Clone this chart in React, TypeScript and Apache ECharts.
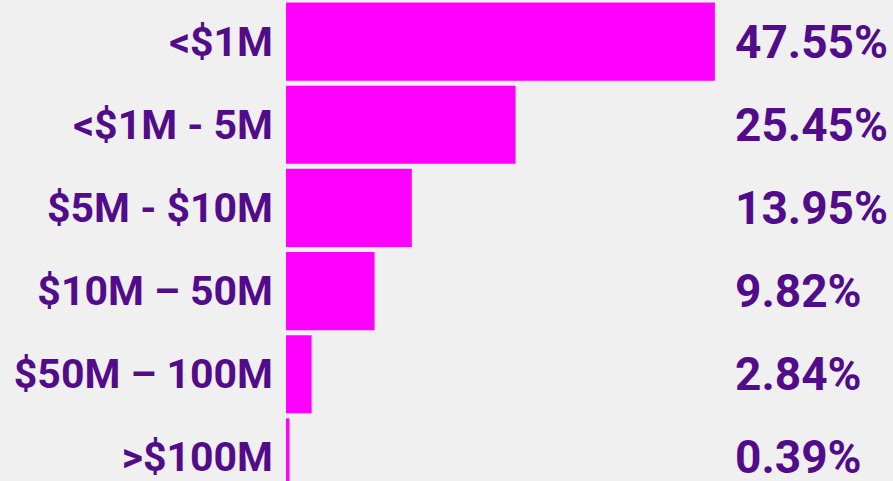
import React, { useEffect, useRef } from "react";
import * as echarts from "echarts";

const categories = ["<$1M", "<$1M - 5M", "$5M - $10M", "$10M – 50M", "$50M – 100M", ">$100M"];
const shares = [47.55, 25.45, 13.95, 9.82, 2.84, 0.39];
const shareLabels = shares.map((v) => v.toFixed(2) + "%");

const TEXT = "#520c8b";
const BAR = "#ff00ff";
const BG = "#f0f0f0";

export default function App() {
  const ref = useRef<HTMLDivElement>(null);
  useEffect(() => {
    document.body.style.margin = "0";
    document.body.style.background = BG;
    const chart = echarts.init(ref.current!, null, { renderer: "svg" });
    chart.setOption({
      animation: false,
      backgroundColor: BG,
      grid: { left: 286, right: 156, top: 0, bottom: 0, containLabel: false },
      xAxis: { type: "value", min: 0, max: 50, show: false },
      yAxis: [
        {
          type: "category",
          data: categories,
          inverse: true,
          position: "left",
          axisLine: { show: false },
          axisTick: { show: false },
          axisLabel: {
            margin: 13,
            color: TEXT,
            fontFamily: "Roboto",
            fontWeight: "bold",
            fontSize: 41,
            padding: [7, 0, 0, 0],
          },
        },
        {
          type: "category",
          data: shareLabels,
          inverse: true,
          position: "right",
          axisLine: { show: false },
          axisTick: { show: false },
          axisLabel: {
            margin: -2,
            align: "left",
            color: TEXT,
            fontFamily: "Roboto",
            fontWeight: "bold",
            fontSize: 46,
            padding: [4, 0, 0, 0],
          },
        },
      ],
      series: [
        {
          type: "bar",
          data: shares,
          yAxisIndex: 0,
          barCategoryGap: "6%",
          itemStyle: { color: BAR },
        },
      ],
    });
    return () => chart.dispose();
  }, []);
  return (
    <div style={{ width: 893, height: 481, overflow: "hidden", position: "relative" }}>
      <div ref={ref} style={{ width: 893, height: 499 }} />
    </div>
  );
}
